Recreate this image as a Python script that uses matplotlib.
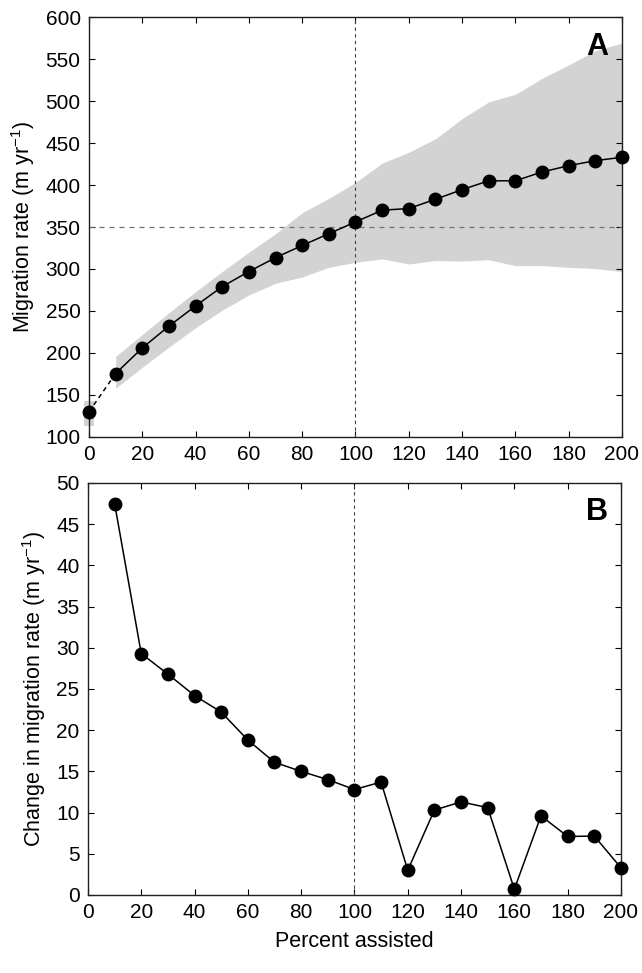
import matplotlib
matplotlib.use('Agg')
import matplotlib.pyplot as plt

matplotlib.rcParams.update({'font.family': 'Liberation Sans'})
matplotlib.rcParams.update({'mathtext.fontset': 'custom'})
matplotlib.rcParams.update({'mathtext.rm': 'Liberation Sans'})
matplotlib.rcParams.update({'mathtext.default': 'regular'})

# panel A: migration rate vs percent assisted
pct = [0, 10, 20, 30, 40, 50, 60, 70, 80, 90, 100,
       110, 120, 130, 140, 150, 160, 170, 180, 190, 200]
rate = [130, 175.5, 206, 232, 256, 279, 297, 313.5, 328, 342, 356,
        370, 372, 383, 394.5, 405, 405, 415.5, 423, 429, 433]
band_lo = [113, 158, 183, 207, 230, 251, 269, 283, 290.5, 302, 308,
           312, 306, 310, 309.5, 311, 304, 304, 302, 300.5, 297]
band_hi = [143, 196, 222, 248, 273, 297, 320, 342, 367, 384, 403,
           426, 439, 455, 479, 499, 508, 527, 543, 560, 569]

# panel B: change in migration rate
pct_b = [10, 20, 30, 40, 50, 60, 70, 80, 90, 100,
         110, 120, 130, 140, 150, 160, 170, 180, 190, 200]
change = [47.5, 29.3, 26.8, 24.2, 22.2, 18.8, 16.1, 15.0, 14.0, 12.8,
          13.7, 3.0, 10.3, 11.3, 10.6, 0.7, 9.6, 7.1, 7.15, 3.3]

fig = plt.figure(figsize=(6.42, 9.73), dpi=100)
axA = fig.add_axes([0.1386, 0.5509, 0.8302, 0.4316])
axB = fig.add_axes([0.137, 0.0802, 0.8302, 0.4234])

band_col = '#d3d3d3'

# band at 0 is a small box, the rest is a continuous ribbon
axA.fill_between([-2, 2], [band_lo[0]] * 2, [band_hi[0]] * 2,
                 color=band_col, linewidth=0, clip_on=False, zorder=1)
axA.fill_between(pct[1:], band_lo[1:], band_hi[1:],
                 color=band_col, linewidth=0, zorder=1)

axA.axhline(350, color='#707070', linestyle=(0, (4, 4)), linewidth=0.9, zorder=2)
axA.axvline(100, color='#404040', linestyle=(0, (3, 3)), linewidth=0.8, zorder=2)
axB.axvline(100, color='#404040', linestyle=(0, (3, 3)), linewidth=0.8, zorder=2)

axA.plot(pct[:2], rate[:2], color='black', linestyle=(0, (3, 2.5)), linewidth=1.1, zorder=3)
axA.plot(pct[1:], rate[1:], color='black', linewidth=1.1, zorder=3)
axA.plot(pct, rate, 'o', color='black', markersize=9, clip_on=False, zorder=4)

axB.plot(pct_b, change, '-o', color='black', linewidth=1.1, markersize=9,
         clip_on=False, zorder=4)

axA.set_xlim(0, 200)
axA.set_ylim(100, 600)
axA.set_yticks(range(100, 601, 50))
axB.set_xlim(0, 200)
axB.set_ylim(0, 50)
axB.set_yticks(range(0, 51, 5))

for ax in (axA, axB):
    ax.set_xticks(range(0, 201, 20))
    ax.tick_params(direction='in', top=True, right=True, length=4.5,
                   width=0.8, labelsize=15, pad=6)
    for sp in ax.spines.values():
        sp.set_linewidth(1.0)
        sp.set_color('#202020')

axA.set_ylabel('Migration rate (m yr$^{-1}$)', fontsize=15.5, labelpad=6)
axB.set_ylabel('Change in migration rate (m yr$^{-1}$)', fontsize=15.5, labelpad=6)
axB.set_xlabel('Percent assisted', fontsize=15.5, labelpad=6)

axA.text(0.975, 0.965, 'A', transform=axA.transAxes, ha='right', va='top',
         fontsize=22, fontweight='bold')
axB.text(0.975, 0.965, 'B', transform=axB.transAxes, ha='right', va='top',
         fontsize=22, fontweight='bold')

fig.savefig('out.png', dpi=100)
